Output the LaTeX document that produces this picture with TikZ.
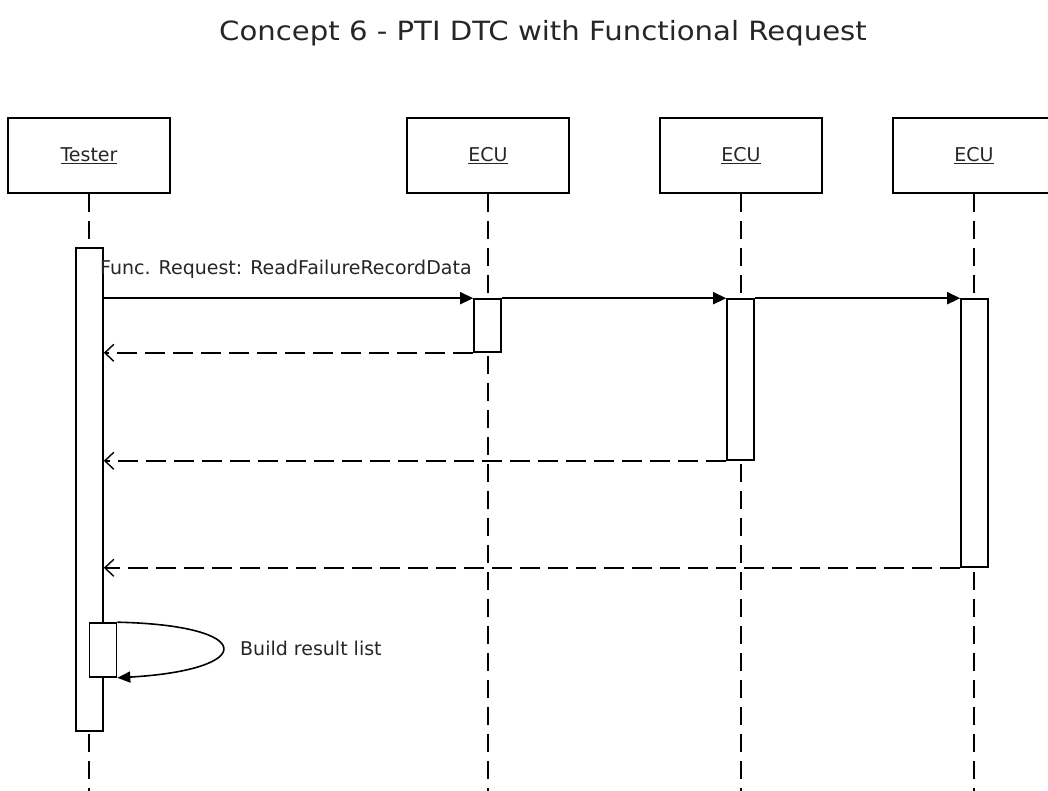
\documentclass[tikz,border=0pt]{standalone}
\usepackage{fontspec}
\setmainfont{DejaVu Sans}
\usetikzlibrary{arrows.meta}

\begin{document}
\begin{tikzpicture}[x=1pt,y=-1pt,
  txt/.style={text=black!85, inner sep=0pt},
  lbl/.style={txt, font=\fontsize{19}{22}\selectfont},
  head/.style={draw, line width=1.6pt, fill=white, minimum width=162pt,
    minimum height=75pt, inner sep=0pt, text height=15pt, text depth=3pt,
    font=\fontsize{19}{22}\selectfont, text=black!85},
  act/.style={draw, line width=1.6pt, fill=white, minimum width=27pt, inner sep=0pt},
  life/.style={line width=1.6pt, dash pattern=on 18pt off 9pt},
  call/.style={line width=1.6pt, -{Triangle[length=13pt,width=12pt]}},
  ret/.style={line width=1.4pt, dash pattern=on 20pt off 8pt,
    -{Straight Barb[length=9pt,width=17pt,line width=1.4pt]}}
]
\useasboundingbox (0,0) rectangle (1048,791);
\clip (0,0) rectangle (1048,791);
\fill[white] (0,0) rectangle (1048,791);

% title
\node[txt, anchor=base, font=\fontsize{26.5}{32}\selectfont] (title) at (543,41)
  {\scalebox{1.1}[1]{Concept 6 - PTI DTC with Functional Request}};

% lifeline heads
\node[head] (tester) at (89,155.5) {\underline{Tester}};
\node[head] (ecu1) at (488,155.5) {\underline{ECU}};
\node[head] (ecu2) at (741,155.5) {\underline{ECU}};
\node[head] (ecu3) at (974,155.5) {\underline{ECU}};

% lifeline ends
\coordinate (tend) at (89,791);
\coordinate (e1end) at (488,791);
\coordinate (e2end) at (741,791);
\coordinate (e3end) at (974,791);
\draw[life] (tester.south) -- (tend);
\draw[life] (ecu1.south) -- (e1end);
\draw[life] (ecu2.south) -- (e2end);
\draw[life] (ecu3.south) -- (e3end);

% activations
\node[act, minimum height=483pt] (ta) at (89.5,489.5) {};
\node[act, minimum height=53pt] (e1a) at (487.5,325.5) {};
\node[act, minimum height=161pt] (e2a) at (740.5,379.5) {};
\node[act, minimum height=268pt] (e3a) at (974.5,433) {};
\node[act, minimum height=54pt] (sa) at (103,650) {};

% request messages
\draw[call] (ta.east |- e1a.north) -- (e1a.north west);
\draw[call] (e1a.north east) -- (e2a.north west);
\draw[call] (e2a.north east) -- (e2a.north east -| e3a.west);
\node[lbl, anchor=base west] (reqlabel) at (100,275) {Func. Request: ReadFailureRecordData};

% responses
\draw[ret] (e1a.south west) -- (ta.east |- e1a.south);
\draw[ret] (e2a.south west) -- (ta.east |- e2a.south);
\draw[ret] (e3a.south west) -- (ta.east |- e3a.south);

% self call
\draw[line width=1.6pt, -{Triangle[length=13pt,width=11pt]}]
  (sa.north east) .. controls +(140,3) and +(140,-8) .. (sa.south east);
\node[lbl, anchor=base west] (selflabel) at (240,655) {Build result list};
\end{tikzpicture}
\end{document}
